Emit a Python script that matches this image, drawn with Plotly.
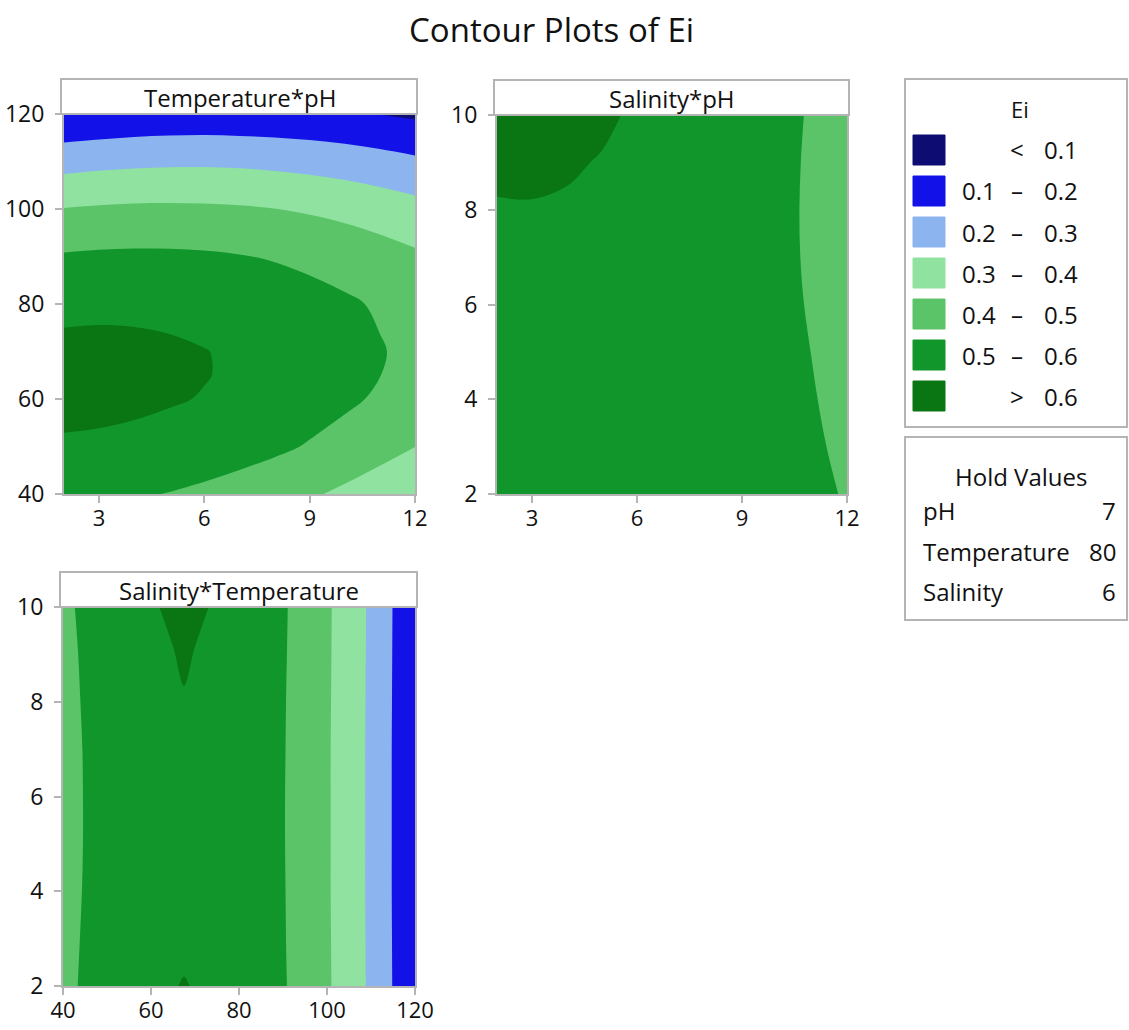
import plotly.graph_objects as go

W, H = 1129, 1030

# ---------------- data ----------------
TITLE = "Contour Plots of Ei"
PANEL_TITLES = ["Temperature*pH", "Salinity*pH", "Salinity*Temperature"]

# Panel 1: Temperature (rows) x pH (columns), Salinity held at 6
PH_COLS = [2, 3, 4, 5, 6, 7, 8, 9, 10, 11, 12]
TEMP_ROWS = [40, 50, 60, 65, 70, 80, 90, 100, 110, 120]
EI_TEMP_PH = [
    [0.526, 0.520, 0.510, 0.497, 0.481, 0.461, 0.438, 0.412, 0.382, 0.349, 0.312],
    [0.591, 0.587, 0.580, 0.570, 0.555, 0.538, 0.518, 0.493, 0.466, 0.435, 0.401],
    [0.622, 0.621, 0.616, 0.607, 0.596, 0.581, 0.563, 0.541, 0.516, 0.488, 0.456],
    [0.625, 0.624, 0.621, 0.614, 0.603, 0.589, 0.572, 0.552, 0.528, 0.501, 0.470],
    [0.619, 0.620, 0.617, 0.611, 0.602, 0.589, 0.574, 0.554, 0.532, 0.506, 0.476],
    [0.581, 0.584, 0.584, 0.581, 0.574, 0.564, 0.550, 0.533, 0.513, 0.490, 0.463],
    [0.509, 0.515, 0.517, 0.516, 0.512, 0.504, 0.493, 0.478, 0.461, 0.439, 0.415],
    [0.403, 0.411, 0.416, 0.417, 0.415, 0.410, 0.401, 0.389, 0.374, 0.355, 0.333],
    [0.263, 0.273, 0.280, 0.284, 0.285, 0.282, 0.275, 0.266, 0.253, 0.236, 0.217],
    [0.105, 0.115, 0.125, 0.130, 0.132, 0.130, 0.127, 0.120, 0.112, 0.098, 0.085],
]

# Panel 2: Salinity (rows) x pH (columns), Temperature held at 80
SAL_ROWS = [2, 3, 4, 5, 6, 7, 8, 9, 10]
EI_SAL_PH = [
    [0.568, 0.575, 0.579, 0.581, 0.578, 0.573, 0.564, 0.552, 0.539, 0.521, 0.493],
    [0.569, 0.575, 0.578, 0.578, 0.575, 0.568, 0.558, 0.546, 0.531, 0.512, 0.483],
    [0.571, 0.576, 0.579, 0.578, 0.573, 0.565, 0.554, 0.541, 0.525, 0.505, 0.474],
    [0.575, 0.579, 0.581, 0.579, 0.573, 0.564, 0.552, 0.537, 0.520, 0.499, 0.467],
    [0.581, 0.584, 0.584, 0.581, 0.574, 0.564, 0.551, 0.535, 0.517, 0.495, 0.462],
    [0.588, 0.590, 0.589, 0.585, 0.577, 0.566, 0.552, 0.535, 0.516, 0.492, 0.458],
    [0.597, 0.598, 0.596, 0.591, 0.581, 0.569, 0.554, 0.536, 0.516, 0.491, 0.456],
    [0.608, 0.607, 0.604, 0.598, 0.587, 0.574, 0.558, 0.538, 0.517, 0.492, 0.456],
    [0.620, 0.618, 0.614, 0.606, 0.595, 0.581, 0.563, 0.543, 0.520, 0.494, 0.457],
]

# Panel 3: Salinity (rows) x Temperature (columns), pH held at 7
TEMP_COLS = [40, 45, 50, 55, 60, 65, 67.5, 70, 75, 80, 85, 90, 95, 100, 105, 110, 115, 120]
EI_SAL_TEMP = [
    [0.472, 0.514, 0.549, 0.574, 0.591, 0.599, 0.601, 0.599, 0.591, 0.574, 0.545, 0.508, 0.463, 0.412, 0.352, 0.284, 0.197, 0.121],
    [0.467, 0.510, 0.544, 0.570, 0.587, 0.595, 0.596, 0.595, 0.587, 0.570, 0.542, 0.506, 0.462, 0.411, 0.351, 0.283, 0.196, 0.120],
    [0.463, 0.506, 0.540, 0.566, 0.583, 0.592, 0.593, 0.592, 0.583, 0.566, 0.540, 0.505, 0.462, 0.410, 0.350, 0.282, 0.195, 0.119],
    [0.461, 0.504, 0.538, 0.564, 0.581, 0.590, 0.591, 0.590, 0.581, 0.564, 0.538, 0.504, 0.461, 0.410, 0.350, 0.282, 0.195, 0.119],
    [0.461, 0.504, 0.538, 0.564, 0.581, 0.589, 0.590, 0.589, 0.581, 0.564, 0.538, 0.504, 0.461, 0.410, 0.350, 0.282, 0.195, 0.119],
    [0.463, 0.505, 0.540, 0.565, 0.582, 0.591, 0.593, 0.591, 0.582, 0.565, 0.539, 0.505, 0.462, 0.410, 0.350, 0.282, 0.195, 0.119],
    [0.466, 0.509, 0.543, 0.568, 0.586, 0.594, 0.598, 0.594, 0.586, 0.568, 0.541, 0.506, 0.462, 0.411, 0.351, 0.283, 0.196, 0.120],
    [0.471, 0.513, 0.548, 0.573, 0.590, 0.599, 0.604, 0.599, 0.590, 0.573, 0.545, 0.508, 0.463, 0.412, 0.352, 0.284, 0.197, 0.121],
    [0.477, 0.520, 0.554, 0.580, 0.597, 0.605, 0.610, 0.605, 0.597, 0.580, 0.549, 0.510, 0.464, 0.413, 0.353, 0.285, 0.198, 0.122],
]

# Contour levels and legend
LEVELS = [0.1, 0.2, 0.3, 0.4, 0.5, 0.6]
BAND_COLORS = ["#0c0c72", "#1212e8", "#8cb4ee", "#90e2a0", "#5cc468", "#11962b", "#0a7613"]
LEGEND_TITLE = "Ei"
LEGEND_LOW = ["", "0.1", "0.2", "0.3", "0.4", "0.5", ""]
LEGEND_SYM = ["<", "–", "–", "–", "–", "–", ">"]
LEGEND_HIGH = ["0.1", "0.2", "0.3", "0.4", "0.5", "0.6", "0.6"]

HOLD_TITLE = "Hold Values"
HOLD_NAMES = ["pH", "Temperature", "Salinity"]
HOLD_VALUES = ["7", "80", "6"]

# ticks
PH_TICKS = [3, 6, 9, 12]
TEMP_TICKS = [40, 60, 80, 100, 120]
SAL_TICKS = [2, 4, 6, 8, 10]

# ---------------- helpers ----------------
FONT = "Open Sans"
GREY = "#b4b4b4"
INK = "#111111"


def px(x):
    return x / W


def py(y):
    return 1 - y / H


# stepped colorscale: band k colour sits at scale position k/6
n = len(BAND_COLORS)
cs = []
for k, c in enumerate(BAND_COLORS):
    lo = 0 if k == 0 else (2 * k - 1) / 12
    hi = 1 if k == n - 1 else (2 * k + 1) / 12
    cs.append([lo, c])
    cs.append([hi, c])

contour_common = dict(
    autocontour=False,
    contours=dict(start=LEVELS[0], end=LEVELS[-1], size=LEVELS[1] - LEVELS[0],
                  coloring="fill", showlines=False),
    colorscale=cs,
    showscale=False,
    line=dict(width=0),
    hoverinfo="x+y+z",
)

fig = go.Figure()
fig.add_trace(go.Contour(x=PH_COLS, y=TEMP_ROWS, z=EI_TEMP_PH, xaxis="x", yaxis="y", **contour_common))
fig.add_trace(go.Contour(x=PH_COLS, y=SAL_ROWS, z=EI_SAL_PH, xaxis="x2", yaxis="y2", **contour_common))
fig.add_trace(go.Contour(x=TEMP_COLS, y=SAL_ROWS, z=EI_SAL_TEMP, xaxis="x3", yaxis="y3", **contour_common))

# panel pixel boxes: (left, right, top, bottom)
P1 = (64, 415, 114, 494)
P2 = (497, 847, 115, 494)
P3 = (63, 415, 607, 986)

axis_common = dict(
    showgrid=False, zeroline=False, showline=True, linecolor=GREY, linewidth=2,
    mirror=True, ticks="outside", ticklen=7, tickwidth=2, tickcolor=GREY,
    automargin=False,
)


def xax(box, rng, tv, anchor):
    return dict(domain=[px(box[0]), px(box[1])], range=rng, tickvals=tv, anchor=anchor,
                ticklabelstandoff=-3, tickfont=dict(family=FONT, size=22, color=INK),
                **axis_common)


def yax(box, rng, tv, anchor):
    return dict(domain=[py(box[3]), py(box[2])], range=rng, tickvals=tv, anchor=anchor,
                ticklabelstandoff=6, tickfont=dict(family=FONT, size=23, color=INK),
                **axis_common)


fig.update_layout(
    width=W, height=H,
    autosize=False,
    margin=dict(l=0, r=0, t=0, b=0, pad=0, autoexpand=False),
    paper_bgcolor="white", plot_bgcolor="white",
    font=dict(family=FONT, color=INK),
    showlegend=False,
    xaxis=xax(P1, [2, 12], PH_TICKS, "y"),
    yaxis=yax(P1, [40, 120], TEMP_TICKS, "x"),
    xaxis2=xax(P2, [2, 12], PH_TICKS, "y2"),
    yaxis2=yax(P2, [2, 10], SAL_TICKS, "x2"),
    xaxis3=xax(P3, [40, 120], [40, 60, 80, 100, 120], "y3"),
    yaxis3=yax(P3, [2, 10], SAL_TICKS, "x3"),
)

shapes = []
annotations = []

# main title
annotations.append(dict(text=TITLE, x=px(551), y=py(30), xref="paper", yref="paper",
                        xanchor="center", yanchor="middle", showarrow=False,
                        font=dict(family=FONT, size=33, color=INK)))

# panel headers
for box, title in zip([P1, P2, P3], PANEL_TITLES):
    top = box[2] - 35
    shapes.append(dict(type="rect", xref="paper", yref="paper",
                       x0=px(box[0] - 3), x1=px(box[1] + 2), y0=py(box[2]), y1=py(top),
                       line=dict(color=GREY, width=2), fillcolor="white", layer="above"))
    annotations.append(dict(text=title, x=px((box[0] + box[1]) / 2), y=py((top + box[2]) / 2 + 1),
                            xref="paper", yref="paper", xanchor="center", yanchor="middle",
                            showarrow=False, font=dict(family=FONT, size=24, color=INK)))

# legend box
shapes.append(dict(type="rect", xref="paper", yref="paper", x0=px(905), x1=px(1127),
                   y0=py(427), y1=py(79), line=dict(color=GREY, width=2), fillcolor="white"))
annotations.append(dict(text=LEGEND_TITLE, x=px(1020), y=py(109), xref="paper", yref="paper",
                        xanchor="center", yanchor="middle", showarrow=False,
                        font=dict(family=FONT, size=22, color=INK)))
for i, c in enumerate(BAND_COLORS):
    yc = 150 + i * 41
    shapes.append(dict(type="rect", xref="paper", yref="paper", x0=px(913), x1=px(945),
                       y0=py(yc + 15), y1=py(yc - 15), line=dict(color=c, width=1), fillcolor=c))
    for txt, xx, anc in [(LEGEND_LOW[i], 998, "right"), (LEGEND_SYM[i], 1017, "center"),
                         (LEGEND_HIGH[i], 1042, "left")]:
        if txt:
            annotations.append(dict(text=txt, x=px(xx), y=py(yc), xref="paper", yref="paper",
                                    xanchor=anc, yanchor="middle", showarrow=False,
                                    font=dict(family=FONT, size=24, color=INK)))

# hold values box
shapes.append(dict(type="rect", xref="paper", yref="paper", x0=px(905), x1=px(1127),
                   y0=py(620), y1=py(437), line=dict(color=GREY, width=2), fillcolor="white"))
annotations.append(dict(text=HOLD_TITLE, x=px(1021), y=py(476), xref="paper", yref="paper",
                        xanchor="center", yanchor="middle", showarrow=False,
                        font=dict(family=FONT, size=24, color=INK)))
for i, (nm, val) in enumerate(zip(HOLD_NAMES, HOLD_VALUES)):
    yc = 510 + i * 41
    annotations.append(dict(text=nm, x=px(921), y=py(yc), xref="paper", yref="paper",
                            xanchor="left", yanchor="middle", showarrow=False,
                            font=dict(family=FONT, size=24, color=INK)))
    annotations.append(dict(text=val, x=px(1118), y=py(yc), xref="paper", yref="paper",
                            xanchor="right", yanchor="middle", showarrow=False,
                            font=dict(family=FONT, size=24, color=INK)))

fig.update_layout(shapes=shapes, annotations=annotations)
fig.write_html("out.html", config={"displayModeBar": False},
               post_script="document.body.style.margin='0';")
